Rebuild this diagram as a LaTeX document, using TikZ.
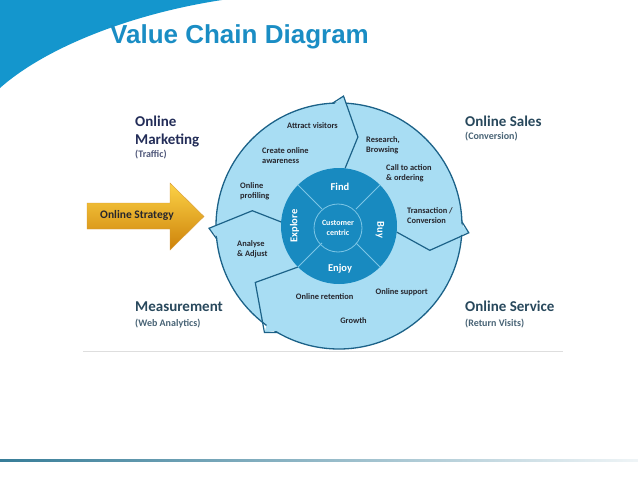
\documentclass[tikz,border=0pt]{standalone}
\usepackage{fontspec}
\setmainfont{Carlito}
\newfontfamily\headfont{Liberation Sans}
\usetikzlibrary{positioning}
\definecolor{titleblue}{RGB}{26,141,196}
\definecolor{swooshblue}{RGB}{20,150,205}
\definecolor{ringfill}{RGB}{168,221,243}
\definecolor{ringline}{RGB}{28,98,136}
\definecolor{hubfill}{RGB}{24,138,192}
\definecolor{hubline}{RGB}{125,198,230}
\definecolor{navy}{RGB}{35,45,88}
\definecolor{slate}{RGB}{40,72,92}
\definecolor{ink}{RGB}{38,38,45}
\definecolor{goldtop}{RGB}{252,210,70}
\definecolor{goldmid}{RGB}{240,176,20}
\definecolor{goldbot}{RGB}{205,130,10}
\definecolor{rulegray}{RGB}{222,222,222}
\definecolor{footteal}{RGB}{55,125,152}
\tikzset{
  heading/.style={font=\bfseries\fontsize{15}{18}\selectfont, text=slate, inner sep=0pt, align=left},
  subhead/.style={font=\bfseries\fontsize{10}{12}\selectfont, text=slate!85, inner sep=0pt},
  ringtext/.style={font=\bfseries\fontsize{8.4}{10}\selectfont, text=ink, inner sep=0pt, align=left},
  hubtext/.style={font=\bfseries\fontsize{10.5}{12}\selectfont, text=white, inner sep=0pt},
  chevron/.style={draw=ringline, line width=1.2pt, line join=miter},
}
\begin{document}
\begin{tikzpicture}[x=1pt, y=-1pt]
  \useasboundingbox (0,0) rectangle (638,479);

  % header
  \fill[swooshblue] (0,0) -- (222,0) .. controls (130,14) and (45,48) .. (0,88) -- cycle;
  \node[font=\headfont\bfseries\fontsize{26}{30}\selectfont, text=titleblue, anchor=base west, inner sep=0pt] (title) at (110,43.5) {Value Chain Diagram};

  % the cycle
  \coordinate (hub) at (339,226);
  \begin{scope}[shift={(hub)}]
    \node[circle, draw=ringline, line width=1.3pt, fill=ringfill, minimum size=246pt, inner sep=0pt] (ring) at (0,0) {};
    \foreach \b/\a/\r/\i in {272/282/91/276, 3/15/94/6, 125/146/101/135, 179/190/88/184} {
      \fill[ringfill] (\b-5:120.5) -- (\b:130) -- (\b+1.5:120.5) -- cycle;
      \draw[chevron] (\b-5:123) -- (\b:130) -- (\a:\r) -- (\i:58);
    }
    \node[circle, fill=hubfill, minimum size=116pt, inner sep=0pt] (disc) at (0,0) {};
    \foreach \t in {45,135,225,315}
      \draw[hubline, line width=0.8pt] (\t:24) -- (\t:58);
    \node[circle, draw=hubline, line width=0.8pt, minimum size=48pt, inner sep=0pt] (core) at (-1,2) {};
  \end{scope}

  \node[hubtext, anchor=base] (find) at (340,190.7) {Find};
  \node[hubtext, rotate=-90] (buy) at (380,230) {Buy};
  \node[hubtext, anchor=base] (enjoy) at (340,271.8) {Enjoy};
  \node[hubtext, rotate=90] (explore) at (294.5,226) {Explore};
  \node[hubtext, font=\bfseries\fontsize{8}{10.5}\selectfont, align=center] (centric) at (338,228) {Customer\\centric};

  \node[ringtext, anchor=base] (attract) at (312.5,128.3) {Attract visitors};
  \node[ringtext, anchor=west] (aware) at (262,156) {Create online\\awareness};
  \node[ringtext, anchor=west] (profile) at (240,191) {Online\\profiling};
  \node[ringtext, anchor=west] (research) at (366,145) {Research,\\Browsing};
  \node[ringtext, anchor=west] (order) at (386,173.5) {Call to action\\\& ordering};
  \node[ringtext, anchor=west] (convert) at (407,215.5) {Transaction /\\Conversion};
  \node[ringtext, anchor=west] (adjust) at (237,249.5) {Analyse\\\& Adjust};
  \node[ringtext, anchor=base] (support) at (401.7,294.5) {Online support};
  \node[ringtext, anchor=base] (retain) at (324.7,299.5) {Online retention};
  \node[ringtext, anchor=base] (growth) at (353.5,323.5) {Growth};

  % stages round the cycle
  \node[heading, text=navy, anchor=north west] (mkt) at (135,116) {Online\\Marketing};
  \node[subhead, text=navy!80] (mktnote) [below=2.5pt of mkt.south west, anchor=north west] {(Traffic)};
  \node[heading, anchor=base west] (sales) at (465,126.7) {Online Sales};
  \node[subhead] (salesnote) [below=5pt of sales.south west, anchor=north west] {(Conversion)};
  \node[heading, anchor=base west] (meas) at (135,311.5) {Measurement};
  \node[subhead] (measnote) [below=7.5pt of meas.south west, anchor=north west] {(Web Analytics)};
  \node[heading, anchor=base west] (service) at (465,311.5) {Online Service};
  \node[subhead] (servicenote) [below=7.5pt of service.south west, anchor=north west] {(Return Visits)};

  % strategy arrow
  \shade[top color=goldtop, middle color=goldmid, bottom color=goldbot, draw=goldbot!80, line width=0.4pt]
    (87,203) -- (170,203) -- (170,183) -- (204,216.5) -- (170,250) -- (170,229) -- (87,229) -- cycle;
  \node[font=\bfseries\fontsize{11.5}{13}\selectfont, text=ink, inner sep=0pt] (strategy) at (137,215.5) {Online Strategy};

  % rules
  \draw[rulegray, line width=0.8pt] (83,351) -- (563,351);
  \shade[left color=footteal, right color=footteal!8] (0,459) rectangle (638,461.5);
\end{tikzpicture}
\end{document}
